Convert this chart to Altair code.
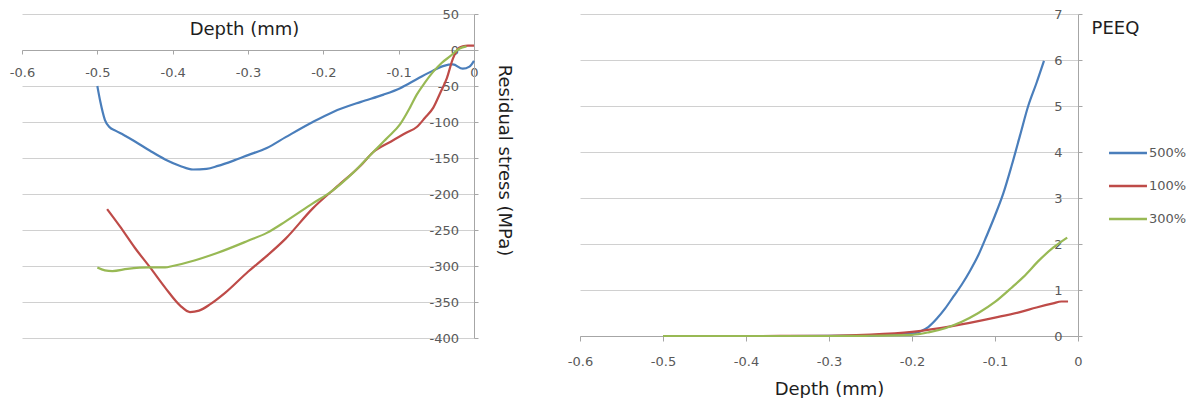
import altair as alt
import pandas as pd

SERIES = ["500%", "100%", "300%"]
COLORS = ["#4a7ebb", "#be4b48", "#98b954"]

X_TICKS = [-0.6, -0.5, -0.4, -0.3, -0.2, -0.1, 0]
RS_TICKS = [-400, -350, -300, -250, -200, -150, -100, -50, 0, 50]
PEEQ_TICKS = [0, 1, 2, 3, 4, 5, 6, 7]

# ---- Residual stress (MPa) vs depth (mm) ----
rs500_depth = [-0.5, -0.496, -0.49, -0.484, -0.476, -0.465, -0.45, -0.43, -0.41, -0.39,
               -0.373, -0.355, -0.34, -0.32, -0.3, -0.275, -0.25, -0.214, -0.187, -0.15,
               -0.12, -0.098, -0.075, -0.055, -0.04, -0.028, -0.015, -0.006, 0]
rs500_val = [-50, -72, -97, -107, -112, -118, -127, -140, -152, -161,
             -166, -165, -161, -154, -146, -136, -121, -100, -86, -72,
             -62, -53, -40, -29, -22, -20, -26, -23, -15]

rs100_depth = [-0.487, -0.47, -0.45, -0.43, -0.41, -0.39, -0.377, -0.365, -0.35, -0.33,
               -0.3, -0.275, -0.25, -0.214, -0.18, -0.15, -0.134, -0.11, -0.09, -0.076,
               -0.065, -0.054, -0.045, -0.036, -0.028, -0.02, -0.015, -0.008, 0]
rs100_val = [-221, -245, -275, -302, -330, -355, -364, -362, -353, -337,
             -308, -286, -262, -220, -188, -160, -142, -127, -115, -107,
             -94, -80, -60, -39, -12, 3, 5, 6, 6]

rs300_depth = [-0.5, -0.49, -0.48, -0.46, -0.43, -0.41, -0.4, -0.37, -0.341, -0.3,
               -0.275, -0.25, -0.214, -0.19, -0.16, -0.134, -0.115, -0.098, -0.085, -0.076,
               -0.065, -0.054, -0.043, -0.032, -0.019, -0.01]
rs300_val = [-302, -306, -307, -304, -302, -302, -300, -292, -282, -265,
             -254, -238, -213, -197, -170, -142, -122, -103, -80, -62,
             -45, -30, -18, -9, 2, 5]

# ---- PEEQ vs depth (mm) ----
pe500_depth = [-0.5, -0.4, -0.3, -0.25, -0.22, -0.2, -0.19, -0.18, -0.17, -0.16, -0.15,
               -0.14, -0.13, -0.12, -0.11, -0.1, -0.09, -0.08, -0.07, -0.06, -0.05, -0.041]
pe500_val = [0, 0, 0.002, 0.01, 0.03, 0.05, 0.1, 0.2, 0.38, 0.6, 0.86,
             1.12, 1.42, 1.76, 2.18, 2.62, 3.1, 3.7, 4.35, 5.0, 5.5, 5.98]

pe100_depth = [-0.5, -0.4, -0.3, -0.25, -0.2, -0.15, -0.1, -0.07, -0.05, -0.03, -0.02, -0.012]
pe100_val = [0, 0, 0.005, 0.03, 0.09, 0.22, 0.4, 0.52, 0.62, 0.71, 0.75, 0.75]

pe300_depth = [-0.5, -0.4, -0.3, -0.25, -0.2, -0.18, -0.16, -0.14, -0.12, -0.1, -0.08,
               -0.066, -0.046, -0.03, -0.013]
pe300_val = [0, 0, 0, 0.005, 0.025, 0.08, 0.17, 0.31, 0.5, 0.74, 1.05,
             1.28, 1.66, 1.92, 2.14]


def frame(parts):
    rows = []
    for name, d, v in parts:
        for x, y in zip(d, v):
            rows.append({"depth": x, "value": y, "series": name})
    return pd.DataFrame(rows)


left_df = frame([("500%", rs500_depth, rs500_val),
                 ("100%", rs100_depth, rs100_val),
                 ("300%", rs300_depth, rs300_val)])
right_df = frame([("500%", pe500_depth, pe500_val),
                  ("100%", pe100_depth, pe100_val),
                  ("300%", pe300_depth, pe300_val)])

LEFT_W, LEFT_H = 452, 324
RIGHT_W, RIGHT_H = 498, 322
RS_DOMAIN = [-400, 50]
# distance of the y=0 line above the bottom of the left plot
zero_off = (0 - RS_DOMAIN[0]) / (RS_DOMAIN[1] - RS_DOMAIN[0]) * LEFT_H

LABEL_EXPR = "toString(datum.value)"

color = alt.Color(
    "series:N",
    scale=alt.Scale(domain=SERIES, range=COLORS),
    sort=SERIES,
    legend=alt.Legend(
        title=None, orient="none", legendX=1088, legendY=121,
        symbolType="M-1.15,0H1.15", symbolSize=1089, symbolStrokeWidth=2.5,
        rowPadding=8, labelOffset=3, labelFontSize=13, labelColor="#595959",
        padding=0,
    ),
)

left = alt.Chart(left_df).mark_line(strokeWidth=2.2, interpolate="monotone").encode(
    x=alt.X("depth:Q",
            scale=alt.Scale(domain=[-0.6, 0], nice=False, zero=False),
            axis=alt.Axis(orient="bottom", offset=-zero_off,
                          values=X_TICKS, labelExpr=LABEL_EXPR, grid=False,
                          labelFlush=False,
                          tickSize=4, labelPadding=12,
                          title="Depth (mm)", titleX=222, titleY=-21,
                          titleAlign="center", titleBaseline="middle")),
    y=alt.Y("value:Q",
            scale=alt.Scale(domain=RS_DOMAIN, nice=False, zero=False),
            axis=alt.Axis(orient="right", values=RS_TICKS, labelExpr=LABEL_EXPR,
                          grid=True, tickSize=4, labelAlign="right", labelPadding=-19.5,
                          title="Residual stress (MPa)", titleAngle=90, titleX=29,
                          titleY=146, titleAlign="center", titleBaseline="middle")),
    color=color,
    order=alt.Order("depth:Q"),
).properties(width=LEFT_W, height=LEFT_H)

right = alt.Chart(right_df).mark_line(strokeWidth=2.2, interpolate="monotone").encode(
    x=alt.X("depth:Q",
            scale=alt.Scale(domain=[-0.6, 0], nice=False, zero=False),
            axis=alt.Axis(orient="bottom", values=X_TICKS, labelExpr=LABEL_EXPR,
                          grid=False, labelFlush=False, tickSize=5, labelPadding=14,
                          title="Depth (mm)", titleY=53,
                          titleAlign="center", titleBaseline="middle")),
    y=alt.Y("value:Q",
            scale=alt.Scale(domain=[0, 7], nice=False, zero=False),
            axis=alt.Axis(orient="right", values=PEEQ_TICKS, labelExpr=LABEL_EXPR,
                          grid=True, tickSize=4, labelAlign="right", labelPadding=-20,
                          title="PEEQ", titleAngle=0, titleX=37, titleY=14,
                          titleAlign="center", titleBaseline="middle")),
    color=color,
    order=alt.Order("depth:Q"),
).properties(width=RIGHT_W, height=RIGHT_H)

chart = alt.hconcat(left, right, spacing=106, bounds="flush").properties(
    padding={"left": 1, "top": 0, "right": 5, "bottom": 0}
).configure(
    font="DejaVu Sans",
).configure_view(
    strokeWidth=0,
).configure_axis(
    labelFont="DejaVu Sans", labelFontSize=13, labelColor="#595959",
    titleFont="DejaVu Sans", titleFontSize=18, titleFontWeight="normal", titleColor="#1e1e1e",
    domainColor="#a6a6a6", tickColor="#a6a6a6", gridColor="#d0d0d0",
    domainWidth=1, tickWidth=1, gridWidth=1,
)

chart.save("out.html", embed_options={"renderer": "svg", "actions": False})
